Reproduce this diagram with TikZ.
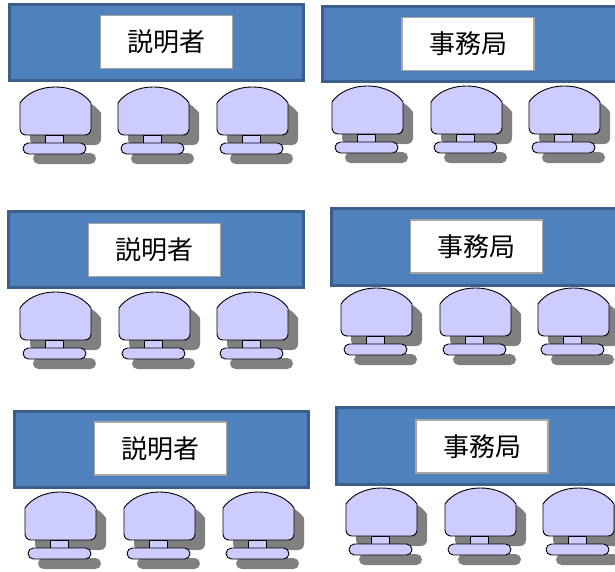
\documentclass[tikz,border=0pt]{standalone}
\usepackage{fontspec}
\newfontfamily\jpfont{Noto Sans CJK JP}
\definecolor{deskblue}{HTML}{4F81BD}
\definecolor{deskedge}{HTML}{3A5F8C}
\definecolor{seatfill}{HTML}{CCCCFF}
\definecolor{seatshadow}{HTML}{808080}
\definecolor{tagedge}{HTML}{A6A6A6}
\begin{document}
\begin{tikzpicture}[x=1pt, y=-1pt]
            \tikzset{desk/.style={fill=deskblue, draw=deskedge, line width=3pt}}
            \tikzset{nametag/.style={fill=white, draw=tagedge, line width=1.2pt, inner sep=0pt,
                minimum width=132pt, minimum height=53pt, font=\jpfont\fontsize{26}{29}\selectfont}}
            \tikzset{seatpart/.style={fill=seatfill, draw=black, line width=0.9pt}}
            \tikzset{chair/.pic={
                % shadow first
                \fill[seatshadow] (10,26) .. controls (16,17) and (29,10) .. (45.5,10)
                    .. controls (62,10) and (75,17) .. (81,26) -- (81,52) arc[start angle=0, end angle=90, radius=6]
                    -- (16,58) arc[start angle=90, end angle=180, radius=6] -- cycle;
                \fill[seatshadow, rounded corners=5.5pt] (13,66) rectangle (76,77);
                % back, stem, base
                \draw[seatpart] (0,16) .. controls (6,7) and (19,0) .. (35.5,0)
                    .. controls (52,0) and (65,7) .. (71,16) -- (71,42) arc[start angle=0, end angle=90, radius=6]
                    -- (6,48) arc[start angle=90, end angle=180, radius=6] -- cycle;
                \draw[seatpart] (25,48) rectangle (43,56);
                \draw[seatpart, rounded corners=5.5pt] (3,56) rectangle (66,67);
            }}
            \useasboundingbox (0,0) rectangle (615,571);
            \clip (0,0) rectangle (615,571);
            % row 1
            \draw[desk] (9.5,4.5) rectangle (303.5,80.5);
            \node[nametag] (tag1) at (166.5,42) {説明者};
            \foreach \cx in {20,118,217} \pic at (\cx,87) {chair};
            \draw[desk] (322.5,6.5) rectangle (620,81.5);
            \node[nametag] (tag2) at (468,44) {事務局};
            \foreach \cx in {332,431,529} \pic at (\cx,86) {chair};
            % row 2
            \draw[desk] (8.5,211.5) rectangle (303.5,287.5);
            \node[nametag] (tag3) at (154.5,250) {説明者};
            \foreach \cx in {20,119,217} \pic at (\cx,292) {chair};
            \draw[desk] (331.5,208.5) rectangle (620,285.5);
            \node[nametag] (tag4) at (476.5,246.5) {事務局};
            \foreach \cx in {341,440,538} \pic at (\cx,288) {chair};
            % row 3
            \draw[desk] (14.5,411.5) rectangle (308.5,487.5);
            \node[nametag] (tag5) at (160.5,448.5) {説明者};
            \foreach \cx in {25,124,223} \pic at (\cx,492) {chair};
            \draw[desk] (336.5,407.5) rectangle (620,484.5);
            \node[nametag] (tag6) at (482,446.5) {事務局};
            \foreach \cx in {346,445,543} \pic at (\cx,488) {chair};
        \end{tikzpicture}
\end{document}
